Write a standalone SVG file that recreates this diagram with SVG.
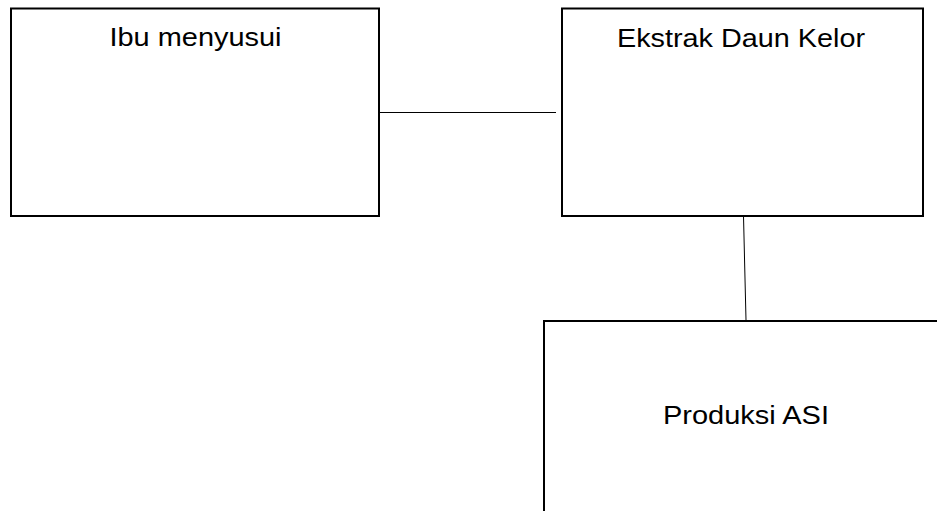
<svg xmlns="http://www.w3.org/2000/svg" width="937" height="511" viewBox="0 0 937 511">
<style>
.box{fill:#fff;stroke:#000;stroke-width:2}
.lbl{font-family:"Liberation Sans",Arial,sans-serif;font-size:26px;fill:#000;text-anchor:middle}
.conn{stroke:#000;stroke-width:1;fill:none}
</style>
<rect width="937" height="511" fill="#fff"/>
<g id="connectors">
<line class="conn" x1="380" y1="112.5" x2="556" y2="112.5"/>
<line class="conn" x1="743.5" y1="216" x2="746" y2="320"/>
</g>
<g id="ibu">
<rect class="box" x="11" y="8.5" width="368" height="207.5"/>
<text class="lbl" x="195.5" y="46" textLength="172" lengthAdjust="spacingAndGlyphs">Ibu menyusui</text>
</g>
<g id="ekstrak">
<rect class="box" x="562" y="8.5" width="361" height="207.5"/>
<text class="lbl" x="741" y="46.5" textLength="248" lengthAdjust="spacingAndGlyphs">Ekstrak Daun Kelor</text>
</g>
<g id="produksi">
<rect class="box" x="544" y="321" width="420" height="230"/>
<text class="lbl" x="746" y="423.5" textLength="166" lengthAdjust="spacingAndGlyphs">Produksi ASI</text>
</g>
</svg>
